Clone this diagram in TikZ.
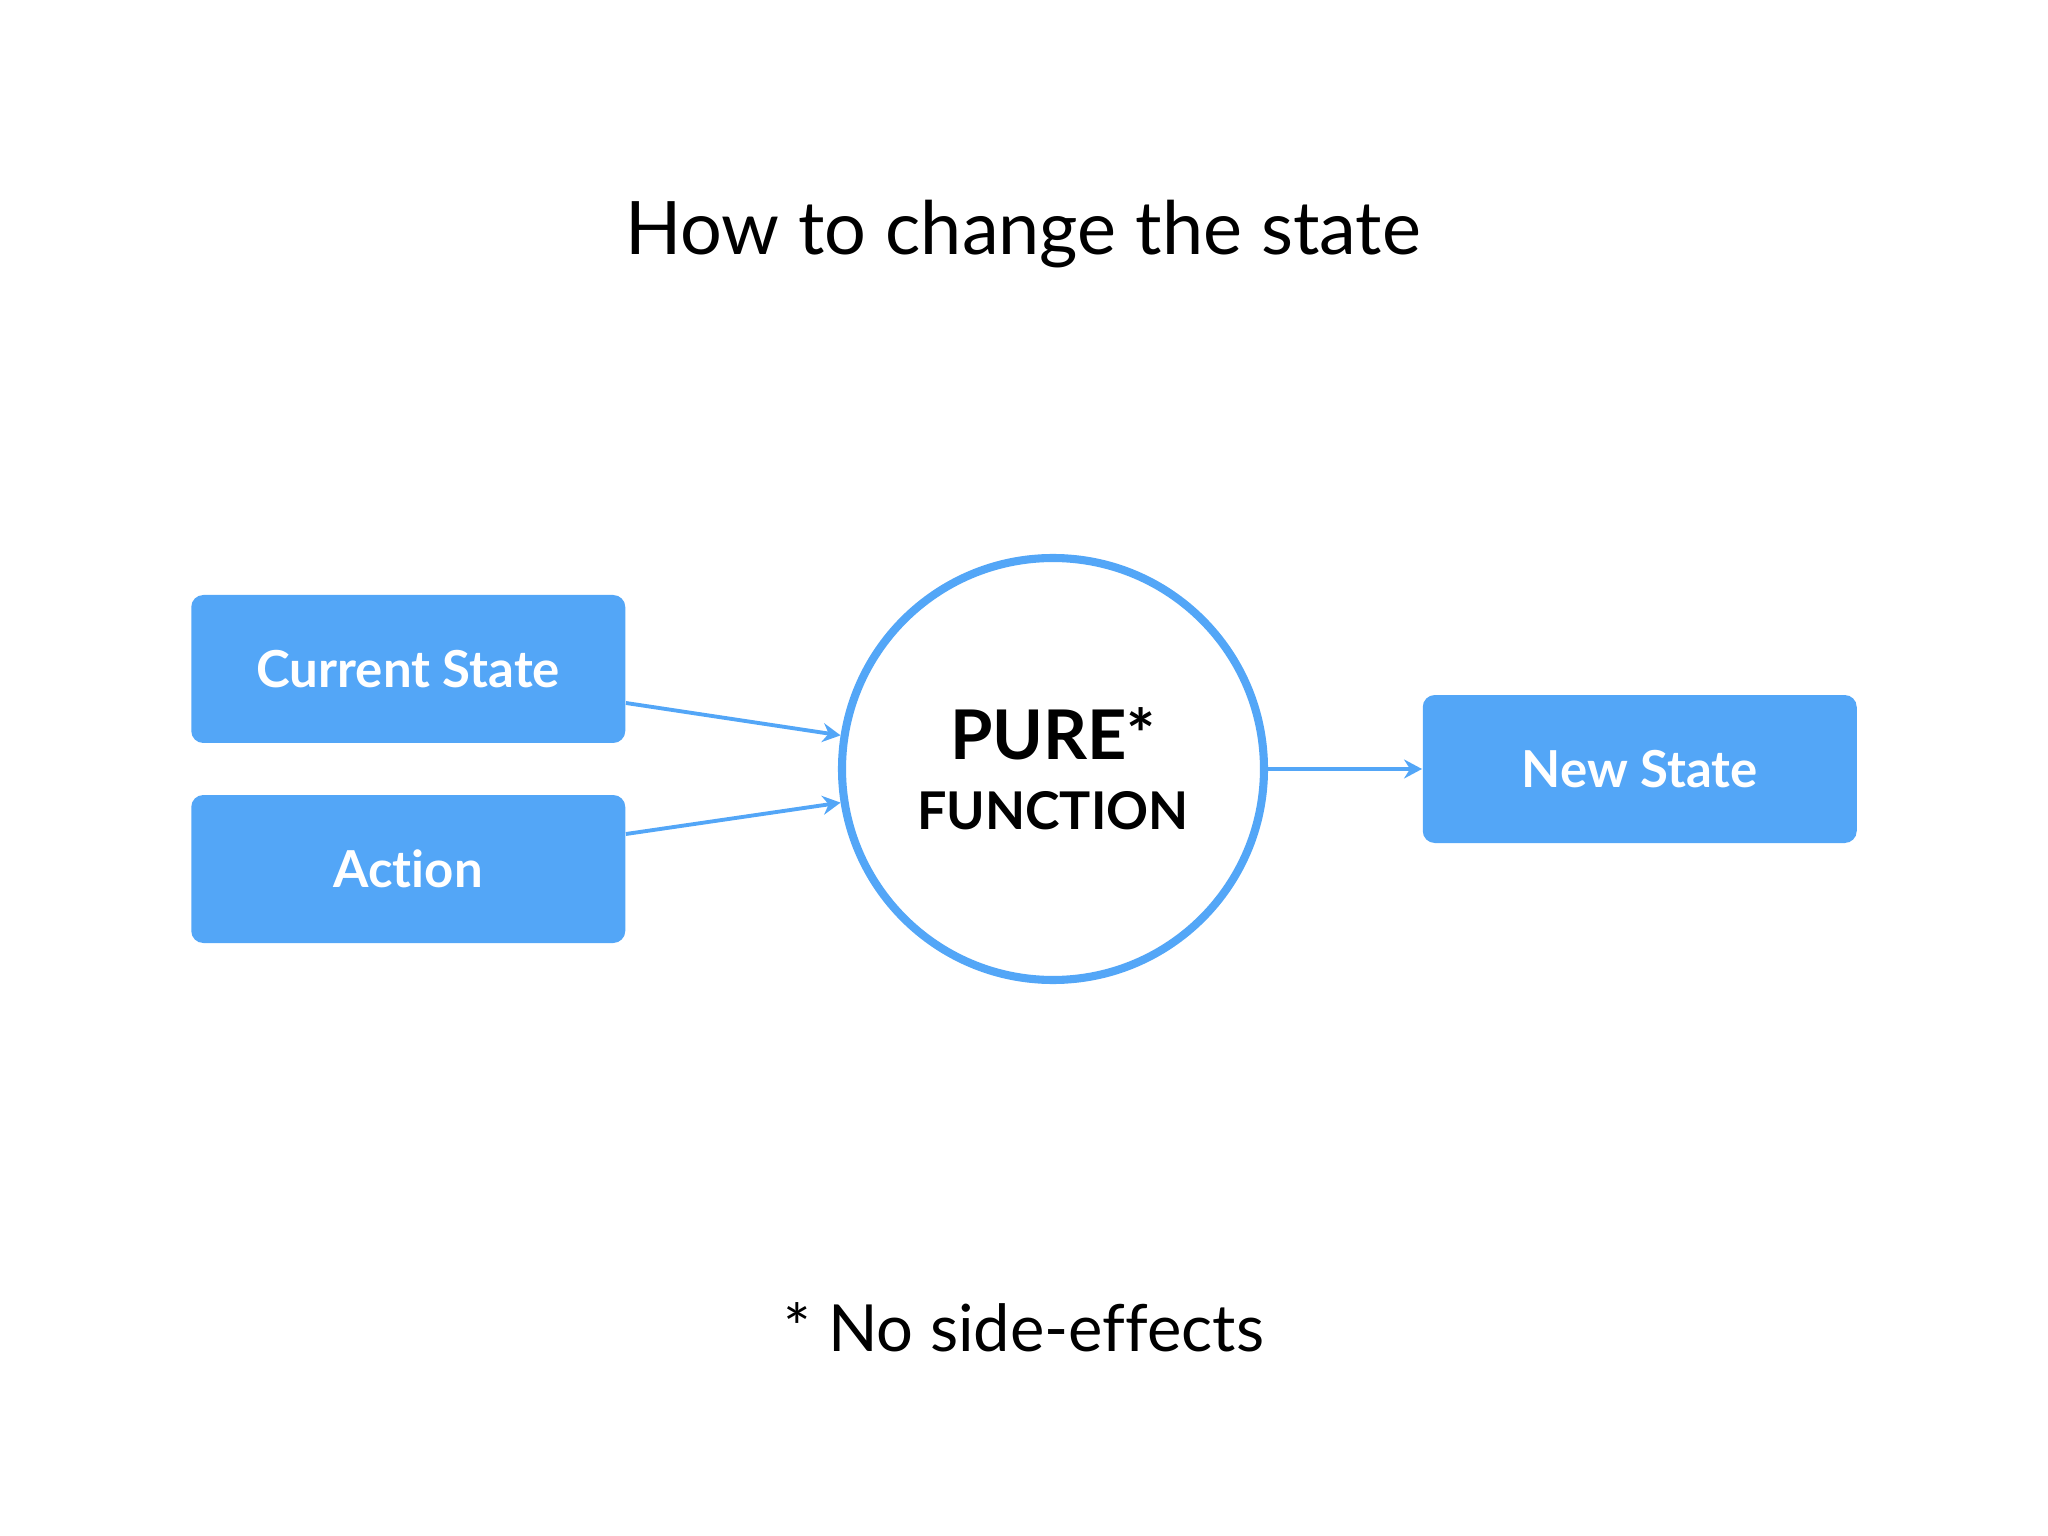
\documentclass[tikz,border=0pt]{standalone}
\usepackage{fontspec}
\setmainfont{Lato}[RawFeature=-liga]
\usepackage{xcolor}
\usepackage{tikz}
\usetikzlibrary{positioning, shapes, calc, arrows.meta}
\definecolor{stateblue}{HTML}{53A6F7}

\begin{document}
\begin{tikzpicture}
		\useasboundingbox (0,0) rectangle (20.48,-15.36);
		\tikzstyle{statebox}=[rectangle, rounded corners=1.2mm, fill=stateblue, minimum width=4.34cm, minimum height=1.48cm, text=white, font=\fontsize{14.5}{17}\selectfont\bfseries]
		\tikzstyle{purec}=[circle, draw=stateblue, line width=2.3pt, minimum size=4.22cm, fill=white, align=center, font=\fontsize{14.8}{21}\selectfont\bfseries]
		\tikzstyle{flow}=[draw=stateblue, line width=1.1pt, -{Stealth[length=1.8mm, width=1.9mm, inset=0.6mm]}]
		
		\node (title) at (10.23,-2.34) {\fontsize{21}{25}\selectfont How to change the state};
		
		\node (fn) at (10.53,-7.69)[purec] {{\fontsize{19.5}{21}\selectfont PURE*}\\[-1pt]FUNCTION};
		\node [left=2.12cm of fn, yshift=1cm, statebox](cur) {Current State};
		\node [left=2.12cm of fn, yshift=-1cm, statebox](act) {Action};
		\node [right=1.54cm of fn, statebox](new) {New State};
		
		\node (note) at (10.24,-13.27) {\fontsize{18.5}{22}\selectfont * No side-effects};
		
		\draw[flow] ([yshift=-0.34cm]cur.east)--(fn.171);
		\draw[flow] ([yshift=0.35cm]act.east)--(fn.189);
		\draw[flow] (fn.east)--(new.west);
		\end{tikzpicture}
\end{document}
